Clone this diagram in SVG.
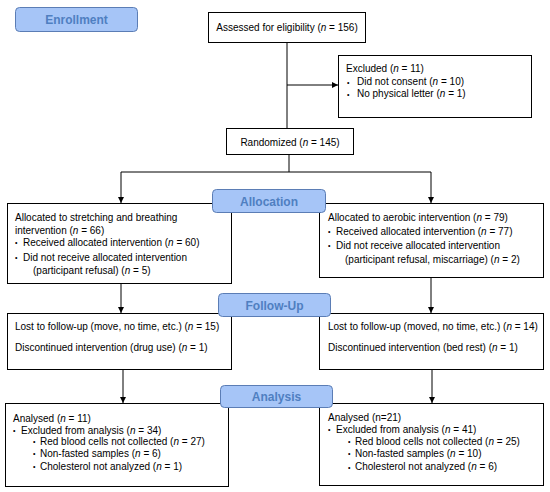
<svg xmlns="http://www.w3.org/2000/svg" width="550" height="492" viewBox="0 0 550 492">
<style>
.box{fill:#fff;stroke:#000;stroke-width:1}
.lbl{fill:#a6c5f7;stroke:#5b7db5;stroke-width:1}
.lt{font-family:"Liberation Sans",Arial,sans-serif;font-size:12px;font-weight:bold;fill:#4f7fc1;text-anchor:middle}
text{font-family:"Liberation Sans",Arial,sans-serif;font-size:10px;fill:#000}
.b{font-size:7px}
.c{fill:none;stroke:#000;stroke-width:1}
</style>
<defs>
<marker id="ah" markerWidth="6" markerHeight="6" refX="6" refY="3" orient="auto" markerUnits="userSpaceOnUse">
<path d="M0,0 L6,3 L0,6 z" fill="#000"/>
</marker>
</defs>
<rect width="550" height="492" fill="#fff"/>
<g id="connectors">
<path class="c" d="M287,42 V128"/>
<path class="c" d="M287,85 H338" marker-end="url(#ah)"/>
<path class="c" d="M289,154 V172"/>
<path class="c" d="M121,172 H431"/>
<path class="c" d="M121,172 V203" marker-end="url(#ah)"/>
<path class="c" d="M431,172 V203" marker-end="url(#ah)"/>
<path class="c" d="M121,283 V313" marker-end="url(#ah)"/>
<path class="c" d="M431,277 V313" marker-end="url(#ah)"/>
<path class="c" d="M123,369 V403" marker-end="url(#ah)"/>
<path class="c" d="M432,369 V403" marker-end="url(#ah)"/>
</g>
<g id="assessed">
<rect class="box" x="208.5" y="12.5" width="157" height="30"/>
<text x="287" y="30.5" text-anchor="middle">Assessed for eligibility (<tspan font-style="italic">n</tspan> = 156)</text>
</g>
<g id="excluded">
<rect class="box" x="338.5" y="55.5" width="193" height="62"/>
<text x="346" y="72">Excluded (<tspan font-style="italic">n</tspan> = 11)</text>
<text class="b" x="347" y="84.5">•</text>
<text x="357" y="85">Did not consent (<tspan font-style="italic">n</tspan> = 10)</text>
<text class="b" x="347" y="96.5">•</text>
<text x="357" y="97">No physical letter (<tspan font-style="italic">n</tspan> = 1)</text>
</g>
<g id="randomized">
<rect class="box" x="226.5" y="128.5" width="127" height="26"/>
<text x="290" y="145.5" text-anchor="middle">Randomized (<tspan font-style="italic">n</tspan> = 145)</text>
</g>
<g id="alloc-left">
<rect class="box" x="7.5" y="203.5" width="224" height="80"/>
<text x="15" y="220.5">Allocated to stretching and breathing</text>
<text x="15" y="233.5">intervention (<tspan font-style="italic">n</tspan> = 66)</text>
<text class="b" x="15" y="245">•</text>
<text x="23" y="245.5">Received allocated intervention (<tspan font-style="italic">n</tspan> = 60)</text>
<text class="b" x="15" y="260">•</text>
<text x="23" y="260.5">Did not receive allocated intervention</text>
<text x="33" y="273.5">(participant refusal) (<tspan font-style="italic">n</tspan> = 5)</text>
</g>
<g id="alloc-right">
<rect class="box" x="319.5" y="203.5" width="224" height="74"/>
<text x="328" y="220.5">Allocated to aerobic intervention (<tspan font-style="italic">n</tspan> = 79)</text>
<text class="b" x="328" y="234">•</text>
<text x="336" y="234.5">Received allocated intervention (<tspan font-style="italic">n</tspan> = 77)</text>
<text class="b" x="328" y="248">•</text>
<text x="336" y="248.5">Did not receive allocated intervention</text>
<text x="345" y="262.5">(participant refusal, miscarriage) (<tspan font-style="italic">n</tspan> = 2)</text>
</g>
<g id="follow-left">
<rect class="box" x="7.5" y="313.5" width="224" height="56"/>
<text x="15" y="329.5">Lost to follow-up (move, no time, etc.) (<tspan font-style="italic">n</tspan> = 15)</text>
<text x="15" y="350.5">Discontinued intervention (drug use) (<tspan font-style="italic">n</tspan> = 1)</text>
</g>
<g id="follow-right">
<rect class="box" x="319.5" y="313.5" width="224" height="56"/>
<text x="328" y="329.5">Lost to follow-up (moved, no time, etc.) (<tspan font-style="italic">n</tspan> = 14)</text>
<text x="328" y="350.5">Discontinued intervention (bed rest) (<tspan font-style="italic">n</tspan> = 1)</text>
</g>
<g id="analysis-left">
<rect class="box" x="5.5" y="403.5" width="223" height="83"/>
<text x="13" y="421.5">Analysed (<tspan font-style="italic">n</tspan> = 11)</text>
<text class="b" x="13" y="433">•</text>
<text x="21" y="433.5">Excluded from analysis (<tspan font-style="italic">n</tspan> = 34)</text>
<text class="b" x="33" y="444">•</text>
<text x="40" y="444.5">Red blood cells not collected (<tspan font-style="italic">n</tspan> = 27)</text>
<text class="b" x="33" y="456">•</text>
<text x="40" y="456.5">Non-fasted samples (<tspan font-style="italic">n</tspan> = 6)</text>
<text class="b" x="33" y="469">•</text>
<text x="40" y="469.5">Cholesterol not analyzed (<tspan font-style="italic">n</tspan> = 1)</text>
</g>
<g id="analysis-right">
<rect class="box" x="319.5" y="403.5" width="224" height="82"/>
<text x="328" y="420.5">Analysed (n=21)</text>
<text class="b" x="328" y="432">•</text>
<text x="336" y="432.5">Excluded from analysis (<tspan font-style="italic">n</tspan> = 41)</text>
<text class="b" x="348" y="444">•</text>
<text x="355" y="444.5">Red blood cells not collected (<tspan font-style="italic">n</tspan> = 25)</text>
<text class="b" x="348" y="456">•</text>
<text x="355" y="456.5">Non-fasted samples (<tspan font-style="italic">n</tspan> = 10)</text>
<text class="b" x="348" y="469.5">•</text>
<text x="355" y="470">Cholesterol not analyzed (<tspan font-style="italic">n</tspan> = 6)</text>
</g>
<g id="enrollment">
<rect class="lbl" x="15.5" y="7.5" width="122" height="24" rx="4"/>
<text class="lt" x="76.5" y="23.5">Enrollment</text>
</g>
<g id="allocation">
<rect class="lbl" x="212.5" y="189.5" width="113" height="23" rx="4"/>
<text class="lt" x="269" y="205.5">Allocation</text>
</g>
<g id="follow-up">
<rect class="lbl" x="218.5" y="293.5" width="112" height="23" rx="4"/>
<text class="lt" x="274.5" y="309.5">Follow-Up</text>
</g>
<g id="analysis">
<rect class="lbl" x="220.5" y="385.5" width="112" height="22" rx="4"/>
<text class="lt" x="276.5" y="401">Analysis</text>
</g>
</svg>
